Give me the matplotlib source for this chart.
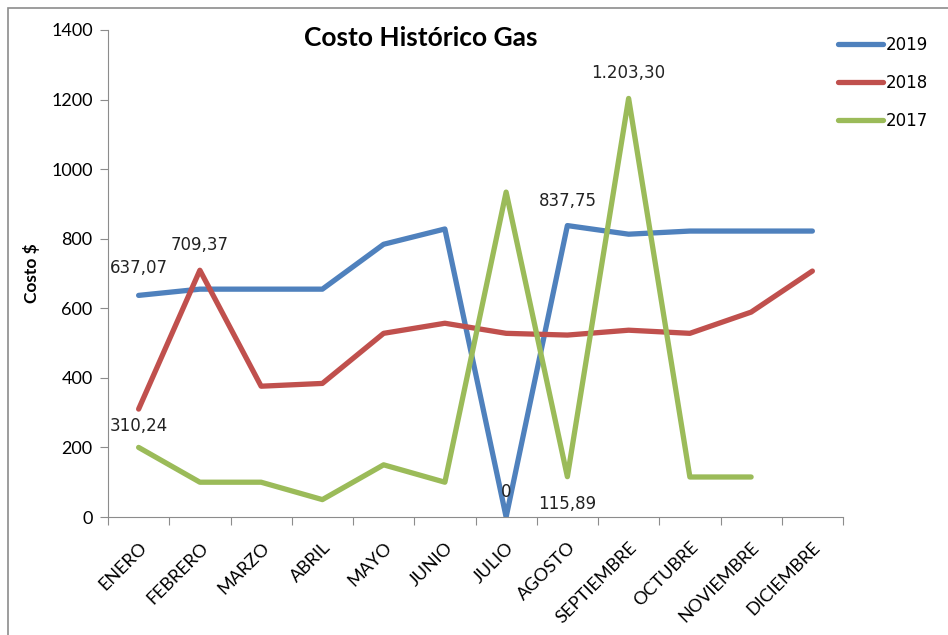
import matplotlib.pyplot as plt
from matplotlib.patches import Rectangle

# Monthly gas cost per year
months = ['ENERO', 'FEBRERO', 'MARZO', 'ABRIL', 'MAYO', 'JUNIO', 'JULIO',
          'AGOSTO', 'SEPTIEMBRE', 'OCTUBRE', 'NOVIEMBRE', 'DICIEMBRE']
cost_2019 = [637.07, 655, 655, 655, 784, 828, 0, 837.75, 813, 822, 822, 822]
cost_2018 = [310.24, 709.37, 376, 384, 528, 557, 528, 523, 537, 528, 589, 707]
cost_2017 = [200, 100, 100, 50, 150, 100, 934, 115.89, 1203.30, 115, 115, None]

plt.rcParams['font.family'] = ['Lato', 'DejaVu Sans']

fig = plt.figure(figsize=(9.48, 6.35), dpi=100)
ax = fig.add_axes([108 / 948, 1 - 517 / 635, (843 - 108) / 948, (517 - 30) / 635])

# outer chart border
fig.patches.append(Rectangle((8 / 948, -0.01), 1.0, 1 - 8 / 635 + 0.01,
                             transform=fig.transFigure, fill=False,
                             edgecolor='#8c8c8c', linewidth=1.2))

x = list(range(len(months)))
ax.plot(x, cost_2019, color='#4F81BD', linewidth=3.8, label='2019', solid_capstyle='round')
ax.plot(x, cost_2018, color='#C0504D', linewidth=3.8, label='2018', solid_capstyle='round')
x17 = [i for i, v in enumerate(cost_2017) if v is not None]
ax.plot(x17, [cost_2017[i] for i in x17], color='#9BBB59', linewidth=3.8,
        label='2017', solid_capstyle='round')

ax.set_xlim(-0.5, len(months) - 0.5)
ax.set_ylim(0, 1400)
ax.set_yticks(range(0, 1401, 200))
ax.set_xticks([i - 0.5 for i in range(len(months) + 1)], minor=False)
ax.set_xticklabels([''] * (len(months) + 1))
ax.set_xticks(x, minor=True)
ax.set_xticklabels(months, minor=True, rotation=45, ha='right',
                   rotation_mode='anchor', fontsize=13)
ax.tick_params(axis='x', which='minor', length=0, pad=16)
ax.tick_params(axis='x', which='major', length=6, color='#8c8c8c')
ax.tick_params(axis='y', length=6, color='#8c8c8c', labelsize=13, pad=5)

for side in ['top', 'right']:
    ax.spines[side].set_visible(False)
for side in ['left', 'bottom']:
    ax.spines[side].set_color('#8c8c8c')

ax.set_ylabel('Costo $', fontweight='bold', fontsize=12.5, labelpad=8)
fig.text(421 / 948, 1 - 38 / 635, 'Costo Histórico Gas', ha='center', va='center',
         fontsize=19, fontweight='bold')

# data labels (offsets in points)
lbl = dict(ha='center', va='center', fontsize=12, color='#222222',
           family='DejaVu Sans', textcoords='offset points')
ax.annotate('637,07', (0, cost_2019[0]), xytext=(0, 19.5), **lbl)
ax.annotate('709,37', (1, cost_2018[1]), xytext=(0, 18), **lbl)
ax.annotate('310,24', (0, cost_2018[0]), xytext=(0, -12.5), **lbl)
ax.annotate('0', (6, cost_2019[6]), xytext=(0, 18), **lbl)
ax.annotate('837,75', (7, cost_2019[7]), xytext=(0, 18), **lbl)
ax.annotate('115,89', (7, cost_2017[7]), xytext=(0, -20), **lbl)
ax.annotate('1.203,30', (8, cost_2017[8]), xytext=(0, 18), **lbl)

leg = fig.legend(loc='upper left', bbox_to_anchor=(823 / 948, 1 - 21 / 635),
                 frameon=False, prop={'family': 'DejaVu Sans', 'size': 12},
                 handlelength=2.7, handletextpad=0.15, labelspacing=1.2)

fig.savefig('out.png', dpi=100)
